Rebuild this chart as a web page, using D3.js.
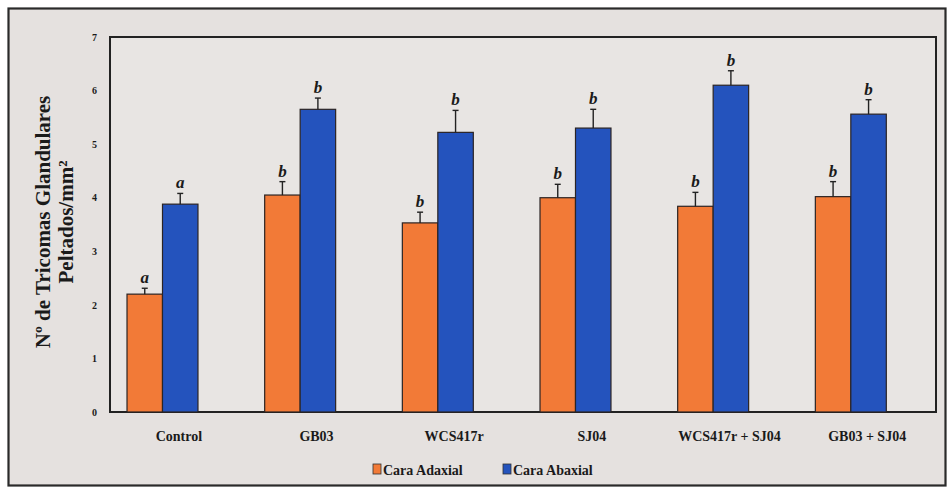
<!DOCTYPE html>
<html>
<head>
<meta charset="utf-8">
<script src="https://cdn.jsdelivr.net/npm/d3@7"></script>
<style>
  html, body { margin: 0; padding: 0; background: #ffffff; }
  svg { display: block; }
  svg text { font-family: 'Liberation Serif', 'Times New Roman', serif !important; font-weight: bold; fill: #1a1a1a; }
</style>
</head>
<body>
<svg id="chart" width="950" height="489"></svg>
<script>
// Treatments and the two leaf faces measured
const categories = ["Control", "GB03", "WCS417r", "SJ04", "WCS417r + SJ04", "GB03 + SJ04"];
const series = ["Cara Adaxial", "Cara Abaxial"];

// Mean glandular peltate trichomes per mm² for each treatment
const adaxial = [2.2, 4.05, 3.53, 4.0, 3.84, 4.02];
const abaxial = [3.88, 5.65, 5.22, 5.3, 6.1, 5.56];

// Upper error (standard error) for each mean
const adaxialErr = [0.11, 0.25, 0.2, 0.25, 0.26, 0.28];
const abaxialErr = [0.2, 0.21, 0.41, 0.35, 0.27, 0.27];

// Significance letters above each bar
const adaxialSig = ["a", "b", "b", "b", "b", "b"];
const abaxialSig = ["a", "b", "b", "b", "b", "b"];

const yTicks = [0, 1, 2, 3, 4, 5, 6, 7];
const colors = { "Cara Adaxial": "#f27a37", "Cara Abaxial": "#2453bd" };
const serif = "'Liberation Serif', 'Times New Roman', serif";

const svg = d3.select("#chart");

// Scanned-page style frame
svg.append("rect")
  .attr("x", 8.5).attr("y", 8.5).attr("width", 937).attr("height", 477)
  .attr("fill", "#e5e1df").attr("stroke", "#2a2a2a").attr("stroke-width", 2.2);

const plot = { left: 110, right: 936, top: 37, bottom: 412 };

const x0 = d3.scaleBand().domain(categories).range([plot.left, plot.right]);
const x1 = d3.scaleBand().domain(series).range([0, x0.bandwidth()])
  .paddingInner(0).paddingOuter(0.94).align(0.255);
const y = d3.scaleLinear().domain([0, 7]).range([plot.bottom, plot.top]);

// Plot area
svg.append("rect")
  .attr("x", plot.left).attr("y", plot.top)
  .attr("width", plot.right - plot.left).attr("height", plot.bottom - plot.top)
  .attr("fill", "#e8e5e3").attr("stroke", "#222").attr("stroke-width", 2);

const rows = categories.map((c, i) => ({
  cat: c,
  values: [
    { key: series[0], v: adaxial[i], e: adaxialErr[i], s: adaxialSig[i] },
    { key: series[1], v: abaxial[i], e: abaxialErr[i], s: abaxialSig[i] }
  ]
}));

const groups = svg.append("g").selectAll("g").data(rows).join("g")
  .attr("transform", d => `translate(${x0(d.cat)},0)`);

groups.selectAll("rect").data(d => d.values).join("rect")
  .attr("x", d => x1(d.key))
  .attr("y", d => y(d.v))
  .attr("width", x1.bandwidth())
  .attr("height", d => y(0) - y(d.v))
  .attr("fill", d => colors[d.key])
  .attr("stroke", "#2b2424").attr("stroke-width", 1.2);

// Upper error bars with caps
const err = groups.selectAll("g.err").data(d => d.values).join("g").attr("class", "err");
err.append("line")
  .attr("x1", d => x1(d.key) + x1.bandwidth() / 2)
  .attr("x2", d => x1(d.key) + x1.bandwidth() / 2)
  .attr("y1", d => y(d.v)).attr("y2", d => y(d.v + d.e))
  .attr("stroke", "#222").attr("stroke-width", 1.4);
err.append("line")
  .attr("x1", d => x1(d.key) + x1.bandwidth() / 2 - 3)
  .attr("x2", d => x1(d.key) + x1.bandwidth() / 2 + 3)
  .attr("y1", d => y(d.v + d.e)).attr("y2", d => y(d.v + d.e))
  .attr("stroke", "#222").attr("stroke-width", 1.4);

// Significance letters
groups.selectAll("text.sig").data(d => d.values).join("text")
  .attr("class", "sig")
  .attr("x", d => x1(d.key) + x1.bandwidth() / 2)
  .attr("y", d => y(d.v + d.e) - 5)
  .attr("text-anchor", "middle")
  .attr("font-family", serif)
  .style("font-style", "italic")
  .style("font-size", "17px")
  .text(d => d.s);

// Y axis tick labels (no tick marks)
const yAxis = d3.axisLeft(y).tickValues(yTicks).tickSize(0).tickPadding(13).tickFormat(d3.format("d"));
const ya = svg.append("g").attr("transform", `translate(${plot.left},0)`).call(yAxis)
  .attr("font-family", serif);
ya.select(".domain").remove();
ya.selectAll("text").style("font-size", "10px");

// X axis category labels
const xAxis = d3.axisBottom(x0).tickSize(0).tickPadding(19);
const xa = svg.append("g").attr("transform", `translate(0,${plot.bottom})`).call(xAxis)
  .attr("font-family", serif);
xa.select(".domain").remove();
xa.selectAll("text").style("font-size", "14px");

// Y axis title
const yTitle = svg.append("text")
  .attr("transform", "translate(50,222) rotate(-90)")
  .attr("text-anchor", "middle")
  .attr("font-family", serif)
  .style("font-size", "21px");
yTitle.append("tspan").attr("x", 0).attr("dy", 0).text("Nº de Tricomas  Glandulares");
yTitle.append("tspan").attr("x", 0).attr("dy", 23).text("Peltados/mm²");

// Legend
const legend = svg.append("g").attr("font-family", serif);
const legendX = [373, 503];
series.forEach((s, i) => {
  legend.append("rect")
    .attr("x", legendX[i]).attr("y", 464).attr("width", 8).attr("height", 10)
    .attr("fill", colors[s]).attr("stroke", "#333").attr("stroke-width", 0.8);
  legend.append("text")
    .attr("x", legendX[i] + 10).attr("y", 475)
    .style("font-size", "14px")
    .text(s);
});
</script>
</body>
</html>
